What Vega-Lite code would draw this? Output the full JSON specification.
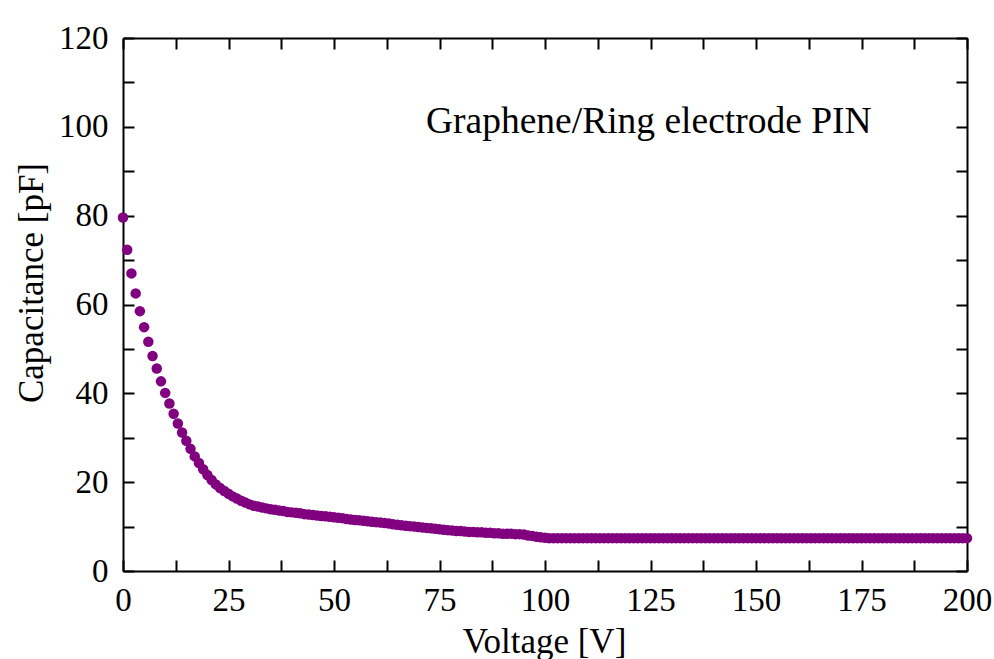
{
  "$schema": "https://vega.github.io/schema/vega-lite/v6.json",
  "autosize": "none",
  "width": 844,
  "height": 533,
  "padding": {"left": 123, "top": 38, "right": 27, "bottom": 88},
  "background": "white",
  "config": {
    "view": {"stroke": null},
    "axis": {
      "domainColor": "black", "domainWidth": 2,
      "tickColor": "black", "tickWidth": 2, "tickSize": -11,
      "grid": false,
      "labelFont": "Liberation Serif", "labelFontSize": 33, "labelColor": "black",
      "titleFont": "Liberation Serif", "titleFontSize": 35, "titleFontWeight": "normal", "titleColor": "black"
    }
  },
  "datasets": {
    "cv": [
      {"V":0,"C":79.6},{"V":1,"C":72.3},{"V":2,"C":67.0},{"V":3,"C":62.5},{"V":4,"C":58.5},
      {"V":5,"C":54.9},{"V":6,"C":51.6},{"V":7,"C":48.4},{"V":8,"C":45.6},{"V":9,"C":42.7},
      {"V":10,"C":40.1},{"V":11,"C":37.7},{"V":12,"C":35.4},{"V":13,"C":33.2},{"V":14,"C":31.2},
      {"V":15,"C":29.3},{"V":16,"C":27.5},{"V":17,"C":25.8},{"V":18,"C":24.3},{"V":19,"C":22.9},
      {"V":20,"C":21.6},{"V":21,"C":20.5},{"V":22,"C":19.5},{"V":23,"C":18.7},{"V":24,"C":18.0},
      {"V":25,"C":17.4},{"V":26,"C":16.8},{"V":27,"C":16.3},{"V":28,"C":15.8},{"V":29,"C":15.4},
      {"V":30,"C":15.0},{"V":31,"C":14.7},{"V":32,"C":14.5},{"V":33,"C":14.3},{"V":34,"C":14.1},
      {"V":35,"C":13.9},{"V":36,"C":13.8},{"V":37,"C":13.6},{"V":38,"C":13.5},{"V":39,"C":13.3},
      {"V":40,"C":13.2},{"V":41,"C":13.1},{"V":42,"C":13.0},{"V":43,"C":12.8},{"V":44,"C":12.7},
      {"V":45,"C":12.6},{"V":46,"C":12.5},{"V":47,"C":12.4},{"V":48,"C":12.3},{"V":49,"C":12.2},
      {"V":50,"C":12.1},{"V":51,"C":12.0},{"V":52,"C":11.9},{"V":53,"C":11.7},{"V":54,"C":11.6},
      {"V":55,"C":11.5},{"V":56,"C":11.4},{"V":57,"C":11.3},{"V":58,"C":11.2},{"V":59,"C":11.1},
      {"V":60,"C":11.0},{"V":61,"C":10.9},{"V":62,"C":10.8},{"V":63,"C":10.7},{"V":64,"C":10.5},
      {"V":65,"C":10.4},{"V":66,"C":10.3},{"V":67,"C":10.2},{"V":68,"C":10.1},{"V":69,"C":10.0},
      {"V":70,"C":9.9},{"V":71,"C":9.8},{"V":72,"C":9.7},{"V":73,"C":9.6},{"V":74,"C":9.5},
      {"V":75,"C":9.4},{"V":76,"C":9.3},{"V":77,"C":9.2},{"V":78,"C":9.1},{"V":79,"C":9.0},
      {"V":80,"C":9.0},{"V":81,"C":8.9},{"V":82,"C":8.8},{"V":83,"C":8.8},{"V":84,"C":8.7},
      {"V":85,"C":8.7},{"V":86,"C":8.6},{"V":87,"C":8.6},{"V":88,"C":8.5},{"V":89,"C":8.5},
      {"V":90,"C":8.4},{"V":91,"C":8.4},{"V":92,"C":8.4},{"V":93,"C":8.3},{"V":94,"C":8.3},
      {"V":95,"C":8.2},{"V":96,"C":8.0},{"V":97,"C":7.9},{"V":98,"C":7.7},{"V":99,"C":7.6},
      {"V":100,"C":7.5},{"V":101,"C":7.4},{"V":102,"C":7.4},{"V":103,"C":7.4},{"V":104,"C":7.4},
      {"V":105,"C":7.4},{"V":106,"C":7.4},{"V":107,"C":7.4},{"V":108,"C":7.4},{"V":109,"C":7.4},
      {"V":110,"C":7.4},{"V":111,"C":7.4},{"V":112,"C":7.4},{"V":113,"C":7.4},{"V":114,"C":7.4},
      {"V":115,"C":7.4},{"V":116,"C":7.4},{"V":117,"C":7.4},{"V":118,"C":7.4},{"V":119,"C":7.4},
      {"V":120,"C":7.4},{"V":121,"C":7.4},{"V":122,"C":7.4},{"V":123,"C":7.4},{"V":124,"C":7.4},
      {"V":125,"C":7.4},{"V":126,"C":7.4},{"V":127,"C":7.4},{"V":128,"C":7.4},{"V":129,"C":7.4},
      {"V":130,"C":7.4},{"V":131,"C":7.4},{"V":132,"C":7.4},{"V":133,"C":7.4},{"V":134,"C":7.4},
      {"V":135,"C":7.4},{"V":136,"C":7.4},{"V":137,"C":7.4},{"V":138,"C":7.4},{"V":139,"C":7.4},
      {"V":140,"C":7.4},{"V":141,"C":7.4},{"V":142,"C":7.4},{"V":143,"C":7.4},{"V":144,"C":7.4},
      {"V":145,"C":7.4},{"V":146,"C":7.4},{"V":147,"C":7.4},{"V":148,"C":7.4},{"V":149,"C":7.4},
      {"V":150,"C":7.4},{"V":151,"C":7.4},{"V":152,"C":7.4},{"V":153,"C":7.4},{"V":154,"C":7.4},
      {"V":155,"C":7.4},{"V":156,"C":7.4},{"V":157,"C":7.4},{"V":158,"C":7.4},{"V":159,"C":7.4},
      {"V":160,"C":7.4},{"V":161,"C":7.4},{"V":162,"C":7.4},{"V":163,"C":7.4},{"V":164,"C":7.4},
      {"V":165,"C":7.4},{"V":166,"C":7.4},{"V":167,"C":7.4},{"V":168,"C":7.4},{"V":169,"C":7.4},
      {"V":170,"C":7.4},{"V":171,"C":7.4},{"V":172,"C":7.4},{"V":173,"C":7.4},{"V":174,"C":7.4},
      {"V":175,"C":7.4},{"V":176,"C":7.4},{"V":177,"C":7.4},{"V":178,"C":7.4},{"V":179,"C":7.4},
      {"V":180,"C":7.4},{"V":181,"C":7.4},{"V":182,"C":7.4},{"V":183,"C":7.4},{"V":184,"C":7.4},
      {"V":185,"C":7.4},{"V":186,"C":7.4},{"V":187,"C":7.4},{"V":188,"C":7.4},{"V":189,"C":7.4},
      {"V":190,"C":7.4},{"V":191,"C":7.4},{"V":192,"C":7.4},{"V":193,"C":7.4},{"V":194,"C":7.4},
      {"V":195,"C":7.4},{"V":196,"C":7.4},{"V":197,"C":7.4},{"V":198,"C":7.4},{"V":199,"C":7.4},
      {"V":200,"C":7.4}
    ],
    "label": [{"V":71.8,"C":98.6,"t":"Graphene/Ring electrode PIN"}]
  },
  "layer": [
    {
      "data": {"name": "cv"},
      "mark": {"type": "point", "shape": "circle", "filled": true, "opacity": 1, "color": "#800080", "size": 110},
      "encoding": {
        "x": {"field": "V", "type": "quantitative",
              "scale": {"domain": [0, 200], "nice": false, "zero": false},
              "axis": {"orient": "bottom", "title": "Voltage [V]",
                       "values": [0,12.5,25,37.5,50,62.5,75,87.5,100,112.5,125,137.5,150,162.5,175,187.5,200],
                       "labelExpr": "datum.value % 25 === 0 ? format(datum.value, 'd') : ''",
                       "labelPadding": 24, "labelFlush": false, "labelOverlap": false,
                       "titleX": 421, "titleY": 81, "titleAlign": "center", "titleBaseline": "alphabetic"}},
        "y": {"field": "C", "type": "quantitative",
              "scale": {"domain": [0, 120], "nice": false},
              "axis": {"orient": "left", "title": "Capacitance [pF]",
                       "values": [0,10,20,30,40,50,60,70,80,90,100,110,120],
                       "labelExpr": "datum.value % 20 === 0 ? format(datum.value, 'd') : ''",
                       "labelPadding": 26, "labelFlush": false, "labelOverlap": false,
                       "titleX": -81, "titleY": 244.5, "titleAngle": -90, "titleAlign": "center", "titleBaseline": "alphabetic"}}
      }
    },
    {
      "data": {"name": "cv"},
      "mark": {"type": "point", "opacity": 0},
      "encoding": {
        "x": {"field": "V", "type": "quantitative",
              "axis": {"orient": "top", "title": null, "labels": false,
                       "values": [0,12.5,25,37.5,50,62.5,75,87.5,100,112.5,125,137.5,150,162.5,175,187.5,200]}},
        "y": {"field": "C", "type": "quantitative",
              "axis": {"orient": "right", "title": null, "labels": false,
                       "values": [0,10,20,30,40,50,60,70,80,90,100,110,120]}}
      }
    },
    {
      "data": {"name": "label"},
      "mark": {"type": "text", "align": "left", "baseline": "alphabetic", "font": "Liberation Serif", "fontSize": 37.5, "color": "black"},
      "encoding": {
        "x": {"field": "V", "type": "quantitative", "axis": null},
        "y": {"field": "C", "type": "quantitative", "axis": null},
        "text": {"field": "t"}
      }
    }
  ],
  "resolve": {"axis": {"x": "independent", "y": "independent"}}
}
